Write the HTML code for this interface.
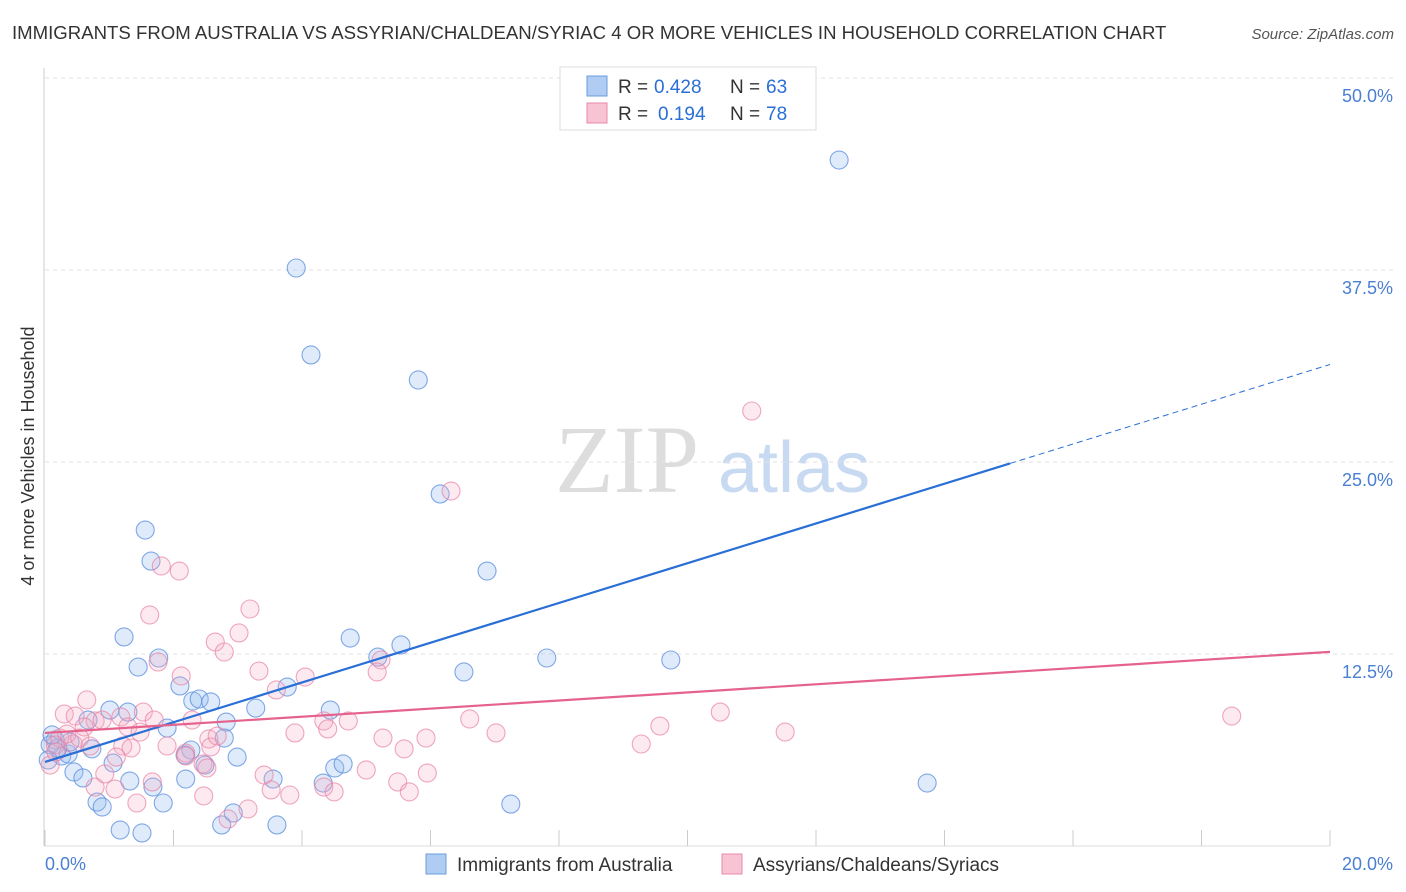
<!DOCTYPE html>
<html><head><meta charset="utf-8"><style>
body{margin:0;background:#fff;font-family:"Liberation Sans",sans-serif;}
svg{display:block}
</style></head><body>
<svg id="chart" width="1406" height="892" xmlns="http://www.w3.org/2000/svg">
<text x="12" y="39" font-size="18.6" fill="#333">IMMIGRANTS FROM AUSTRALIA VS ASSYRIAN/CHALDEAN/SYRIAC 4 OR MORE VEHICLES IN HOUSEHOLD CORRELATION CHART</text>
<text x="1394" y="39" font-size="15" fill="#555" font-style="italic" text-anchor="end">Source: ZipAtlas.com</text>
<text x="555" y="492" font-size="96" fill="#ddd" font-family="Liberation Serif,serif">ZIP</text>
<text x="718" y="492" font-size="72" fill="#c8daf2">atlas</text>
<text transform="translate(34,456) rotate(-90)" font-size="18" fill="#333" text-anchor="middle">4 or more Vehicles in Household</text>
<g id="grid"></g><g id="ticks"></g><g id="pts"></g><g id="lines"></g>
<g>
<rect x="560" y="67" width="256" height="63" fill="#fff" stroke="#ddd"/>
<rect x="587" y="76" width="20" height="20" fill="#b0ccf2" stroke="#6a9de0"/>
<text x="618" y="93" font-size="19" fill="#333">R =</text>
<text x="654" y="93" font-size="19" fill="#2a6fd6">0.428</text>
<text x="730" y="93" font-size="19" fill="#333">N =</text>
<text x="766" y="93" font-size="19" fill="#2a6fd6">63</text>
<rect x="587" y="103" width="20" height="20" fill="#f8c4d4" stroke="#e88aa8"/>
<text x="618" y="120" font-size="19" fill="#333">R =</text>
<text x="658" y="120" font-size="19" fill="#2a6fd6">0.194</text>
<text x="730" y="120" font-size="19" fill="#333">N =</text>
<text x="766" y="120" font-size="19" fill="#2a6fd6">78</text>
</g>
<g>
<rect x="426" y="854" width="20" height="20" fill="#b0ccf2" stroke="#6a9de0"/>
<text x="457" y="871" font-size="19" fill="#333">Immigrants from Australia</text>
<rect x="722" y="854" width="20" height="20" fill="#f8c4d4" stroke="#e88aa8"/>
<text x="753" y="871" font-size="19" fill="#333">Assyrians/Chaldeans/Syriacs</text>
</g>
<text x="45" y="870" font-size="18" fill="#4a7fd4">0.0%</text>
<text x="1393" y="870" font-size="18" fill="#4a7fd4" text-anchor="end">20.0%</text>
</svg>
<script>
const yTicks=[50,37.5,25,12.5];
const yTickLabels=["50.0%","37.5%","25.0%","12.5%"];
const xTicks=[0,2,4,6,8,10,12,14,16,18,20];
const blueX=[12.36,3.91,4.14,5.81,6.15,6.88,1.56,1.65,1.23,1.45,1.77,2.10,2.30,2.40,2.58,3.28,3.77,4.75,5.18,5.54,6.52,7.81,9.74,2.82,2.79,2.99,1.90,1.01,1.29,0.67,0.73,1.06,1.32,0.45,0.59,0.81,0.89,1.68,1.84,2.19,2.27,2.49,2.93,2.75,1.17,1.51,3.61,3.55,4.33,4.51,4.64,4.44,7.25,13.73,0.16,0.26,0.36,0.08,0.20,0.05,2.18,0.39,0.11];
const blueY=[44.66,37.63,31.97,30.34,22.92,17.90,20.57,18.55,13.61,11.65,12.24,10.42,9.44,9.57,9.38,8.98,10.35,13.54,12.30,13.09,11.33,12.24,12.11,8.07,7.03,5.79,7.68,8.85,8.72,8.20,6.32,5.40,4.23,4.82,4.43,2.86,2.54,3.84,2.80,4.36,6.25,5.27,2.15,1.37,1.04,0.85,1.37,4.36,4.10,5.08,5.34,8.85,2.73,4.10,6.90,5.86,5.99,6.58,6.38,5.60,5.92,6.77,7.23];
const pinkX=[11.00,6.32,1.81,2.09,1.63,3.19,3.02,2.65,2.79,2.12,1.76,3.33,3.60,4.05,5.23,5.17,6.61,7.02,9.57,9.28,10.51,11.52,18.47,4.72,4.34,4.40,3.89,5.26,5.59,5.93,2.29,1.90,2.19,2.19,2.55,2.58,2.68,2.46,2.52,3.41,3.52,3.81,4.34,4.50,5.00,5.49,5.67,5.95,3.16,2.85,2.47,1.43,1.67,1.09,0.78,0.93,0.65,0.30,0.47,0.78,0.61,0.89,1.18,1.29,1.48,1.53,1.70,1.21,1.34,1.11,0.44,0.23,0.16,0.08,0.34,0.54,0.70,0.17];
const pinkY=[28.32,23.11,18.23,17.90,15.04,15.43,13.87,13.28,12.63,11.07,11.98,11.39,10.16,11.00,12.11,11.33,8.27,7.36,7.81,6.64,8.72,7.42,8.46,8.14,8.14,7.62,7.36,7.03,6.32,7.03,8.20,6.51,6.05,5.86,6.97,6.45,7.16,5.34,5.08,4.62,3.65,3.32,3.84,3.52,4.95,4.17,3.52,4.75,2.41,1.76,3.26,2.80,4.17,3.71,3.84,4.69,9.51,8.59,8.46,8.14,7.75,8.20,8.40,7.75,7.42,8.72,8.20,6.51,6.38,5.79,6.64,7.03,6.58,5.27,7.29,7.03,6.51,6.12];
const blueTrend=[5.47,1.294];
const pinkTrend=[7.36,0.264];
const NS="http://www.w3.org/2000/svg";
const sx=v=>45+v/20*1285, sy=v=>846-v/50*768;
function mk(t,a,p){const e=document.createElementNS(NS,t);for(const k in a)e.setAttribute(k,a[k]);p.appendChild(e);return e;}
const grid=document.getElementById('grid');
yTicks.forEach((v,i)=>{
 const l=mk('line',{x1:45,x2:1393,y1:sy(v),y2:sy(v),stroke:'#e2e2e2','stroke-dasharray':'4,4'},grid);
 
 
 const t=mk('text',{x:1393,y:sy(v)+24,'font-size':18,fill:'#4a7fd4','text-anchor':'end'},grid);
 t.textContent=yTickLabels[i];
 
 
});
const tk=document.getElementById('ticks');
mk('line',{x1:44,x2:44,y1:68,y2:846,stroke:'#ccc'},tk);
mk('line',{x1:44,x2:1330,y1:846,y2:846,stroke:'#ddd'},tk);
xTicks.forEach(v=>{const l=mk('line',{x1:sx(v),x2:sx(v),y1:830,y2:846,stroke:'#ccc'},tk);
 
 });
const pts=document.getElementById('pts');
blueX.forEach((v,i)=>{const c=mk('circle',{cx:sx(v),cy:sy(blueY[i]),r:9,fill:'rgba(150,190,240,0.3)',stroke:'rgba(90,140,220,0.75)','stroke-width':1.1},pts);
 
 });
pinkX.forEach((v,i)=>{const c=mk('circle',{cx:sx(v),cy:sy(pinkY[i]),r:9,fill:'rgba(245,170,195,0.25)',stroke:'rgba(232,130,165,0.7)','stroke-width':1.1},pts);
 
 });
const ln=document.getElementById('lines');
const bEnd=15.02;
let l1=mk('line',{x1:sx(0),y1:sy(blueTrend[0]),x2:sx(bEnd),y2:sy(blueTrend[0]+blueTrend[1]*bEnd),stroke:'#2a6fd6','stroke-width':2.2},ln);


let l2=mk('line',{x1:sx(bEnd),y1:sy(blueTrend[0]+blueTrend[1]*bEnd),x2:sx(20),y2:sy(blueTrend[0]+blueTrend[1]*20),stroke:'#2a6fd6','stroke-width':1,'stroke-dasharray':'6,4'},ln);


let l3=mk('line',{x1:sx(0),y1:sy(pinkTrend[0]),x2:sx(20),y2:sy(pinkTrend[0]+pinkTrend[1]*20),stroke:'#e5628c','stroke-width':2.2},ln);


</script>
</body></html>
